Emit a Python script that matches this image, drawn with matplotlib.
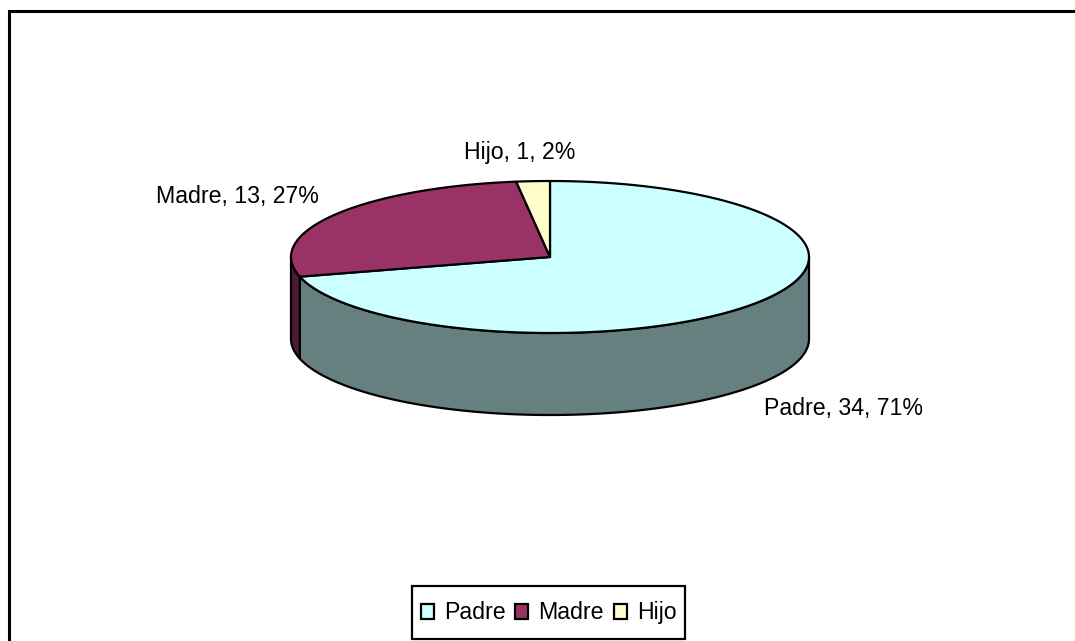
# -*- coding: utf-8 -*-
import numpy as np
import matplotlib
matplotlib.use('Agg')
from matplotlib import pyplot as plt
from matplotlib.patches import Polygon, Rectangle

plt.rcParams['font.family'] = ['Liberation Sans', 'DejaVu Sans']

nombres = ['Padre', 'Madre', 'Hijo']
valores = [34, 13, 1]
colores = ['#CCFFFF', '#993366', '#FFFFCC']
lados = ['#668080', '#4D1A33', '#808066']

# geometria del pastel en pixeles
cx, cy = 550, 257
rx, ry = 259, 76
alto = 82
label_pos = [(844, 409), (237, 197), (520, 152)]
# leyenda: x de cada cuadrito y de cada texto
ley_cuadro = [421, 515, 614]
ley_texto = [444, 538, 637]


def arco(a, b, dy=0):
    t = np.radians(np.linspace(a, b, 200))
    return np.column_stack([cx + rx * np.sin(t), cy + dy - ry * np.cos(t)])


fig = plt.figure(figsize=(10.75, 6.41), dpi=100)
ax = fig.add_axes([0, 0, 1, 1])
ax.set_xlim(0, 1075)
ax.set_ylim(641, 0)
ax.axis('off')

# marco: solo arriba y a la izquierda
ax.plot([9, 9, 1075], [641, 11, 11], color='black', lw=2.2, solid_joinstyle='miter')

total = sum(valores)
angulos = np.cumsum([0] + valores) * 360.0 / total

# pared lateral visible (frente del pastel, de 90 a 270 grados)
for i in range(len(valores)):
    a = max(angulos[i], 90)
    b = min(angulos[i + 1], 270)
    if b > a:
        pts = np.vstack([arco(a, b), arco(a, b, alto)[::-1]])
        ax.add_patch(Polygon(pts, closed=True, fc=lados[i], ec='black', lw=1.6, joinstyle='round'))

# cara superior
for i in range(len(valores)):
    pts = np.vstack([[[cx, cy]], arco(angulos[i], angulos[i + 1])])
    ax.add_patch(Polygon(pts, closed=True, fc=colores[i], ec='black', lw=1.6, joinstyle='round'))

for i in range(len(valores)):
    txt = '%s, %d, %d%%' % (nombres[i], valores[i], round(valores[i] * 100.0 / total))
    ax.text(label_pos[i][0], label_pos[i][1], txt, fontsize=16.7, ha='center', va='center', color='black')

# leyenda
ax.add_patch(Rectangle((412, 586), 273, 52.5, fc='white', ec='black', lw=1.6))
for i in range(len(nombres)):
    ax.add_patch(Rectangle((ley_cuadro[i], 604), 13, 15, fc=colores[i], ec='black', lw=1.6))
    ax.text(ley_texto[i], 612.5, nombres[i], fontsize=16.7, ha='left', va='center', color='black')

fig.savefig('out.png', dpi=100)
